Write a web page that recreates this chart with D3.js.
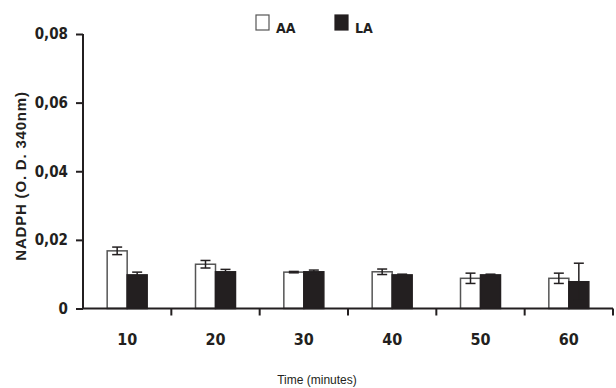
<!DOCTYPE html>
<html>
<head>
<meta charset="utf-8">
<script src="https://cdn.jsdelivr.net/npm/d3@7"></script>
<style>
  body { margin: 0; background: #fff; }
  svg { display: block; }
  .lbl { font-family: "DejaVu Sans Condensed", "Liberation Sans Narrow", sans-serif; font-weight: bold; font-stretch: condensed; fill: #231f20; }
</style>
</head>
<body>
<svg width="616" height="388"></svg>
<script>
var times = ["10", "20", "30", "40", "50", "60"];
var series = ["AA", "LA"];
var aaValues = [0.0168, 0.0129, 0.0106, 0.0107, 0.0088, 0.0088];
var aaErrors = [0.0011, 0.0011, 0.0002, 0.0008, 0.0015, 0.0015];
var laValues = [0.0098, 0.0107, 0.0107, 0.0098, 0.0098, 0.0078];
var laErrors = [0.0008, 0.0007, 0.0005, 0.0002, 0.0002, 0.0054];
var yTicks = [0, 0.02, 0.04, 0.06, 0.08];

var ink = "#231f20";

var svg = d3.select("svg"),
    margin = {top: 34, right: 3, bottom: 79.5, left: 83},
    width = +svg.attr("width") - margin.left - margin.right,
    height = +svg.attr("height") - margin.top - margin.bottom,
    g = svg.append("g").attr("transform", "translate(" + margin.left + "," + margin.top + ")");

var x = d3.scaleBand().domain(times).range([0, width]);
var xSub = d3.scaleBand().domain(series).range([0, 40]);
var y = d3.scaleLinear().domain([0, 0.08]).range([height, 0]);

var rows = times.map(function(t, i) {
  return [
    {time: t, key: "AA", value: aaValues[i], err: aaErrors[i]},
    {time: t, key: "LA", value: laValues[i], err: laErrors[i]}
  ];
});
var flat = [].concat.apply([], rows);

function barX(d) {
  return x(d.time) + (x.bandwidth() - 40) / 2 + xSub(d.key);
}

// bars
g.selectAll(".bar")
  .data(flat)
  .enter().append("rect")
    .attr("class", "bar")
    .attr("x", barX)
    .attr("y", function(d) { return y(d.value); })
    .attr("width", xSub.bandwidth())
    .attr("height", function(d) { return y(0) - y(d.value); })
    .attr("fill", function(d) { return d.key === "AA" ? "#fff" : ink; })
    .attr("stroke", function(d) { return d.key === "AA" ? "#555" : ink; })
    .attr("stroke-width", 1.5);

// error bars
var eb = g.selectAll(".err")
  .data(flat)
  .enter().append("g")
    .attr("class", "err")
    .attr("transform", function(d) { return "translate(" + (barX(d) + xSub.bandwidth() / 2) + ",0)"; })
    .attr("stroke", ink)
    .attr("stroke-width", 1.5);

eb.append("line")
  .attr("y1", function(d) { return y(d.value + d.err); })
  .attr("y2", function(d) { return y(d.value - d.err); });
eb.append("line")
  .attr("x1", -5).attr("x2", 5)
  .attr("y1", function(d) { return y(d.value + d.err); })
  .attr("y2", function(d) { return y(d.value + d.err); });
eb.append("line")
  .attr("x1", -5).attr("x2", 5)
  .attr("y1", function(d) { return y(d.value - d.err); })
  .attr("y2", function(d) { return y(d.value - d.err); });

// y axis
var yAxis = g.append("g")
  .call(d3.axisLeft(y).tickValues(yTicks).tickSize(7).tickPadding(8)
    .tickFormat(function(d) { return d === 0 ? "0" : d3.format(".2f")(d).replace(".", ","); }));
yAxis.select(".domain").remove();
yAxis.append("line")
  .attr("x1", 0).attr("x2", 0)
  .attr("y1", y(0.08)).attr("y2", y(0))
  .attr("stroke", ink).attr("stroke-width", 2);
yAxis.selectAll(".tick line").attr("stroke", ink).attr("stroke-width", 2);
yAxis.selectAll(".tick text")
  .attr("class", "lbl")
  .style("font-size", "15px");

// x axis: line, boundary ticks, centered labels
var xAxis = g.append("g").attr("transform", "translate(0," + height + ")");
xAxis.append("line")
  .attr("x1", 0).attr("x2", width)
  .attr("stroke", ink).attr("stroke-width", 2);
xAxis.selectAll(".bt")
  .data(times)
  .enter().append("line")
    .attr("class", "bt")
    .attr("x1", function(d) { return x(d) + x.bandwidth(); })
    .attr("x2", function(d) { return x(d) + x.bandwidth(); })
    .attr("y1", 0).attr("y2", 7)
    .attr("stroke", ink).attr("stroke-width", 2);
xAxis.selectAll(".xl")
  .data(times)
  .enter().append("text")
    .attr("class", "lbl")
    .attr("x", function(d) { return x(d) + x.bandwidth() / 2; })
    .attr("y", 36)
    .attr("text-anchor", "middle")
    .style("font-size", "16px")
    .text(function(d) { return d; });

// axis titles
svg.append("text")
  .attr("x", 317).attr("y", 384)
  .attr("text-anchor", "middle")
  .style("font-family", "'Liberation Sans', Arial, sans-serif")
  .style("font-size", "12px")
  .attr("fill", ink)
  .text("Time (minutes)");

svg.append("text")
  .attr("transform", "translate(26,176) rotate(-90)")
  .attr("text-anchor", "middle")
  .style("font-family", "'Liberation Sans', Arial, sans-serif")
  .style("font-weight", "bold")
  .style("font-size", "15px")
  .style("letter-spacing", "0.8px")
  .attr("fill", ink)
  .text("NADPH (O. D. 340nm)");

// legend
var legend = svg.append("g");
var legendX = [256, 335];
series.forEach(function(s, i) {
  legend.append("rect")
    .attr("x", legendX[i]).attr("y", 15)
    .attr("width", 13).attr("height", 15)
    .attr("fill", s === "AA" ? "#fff" : ink)
    .attr("stroke", s === "AA" ? "#555" : ink)
    .attr("stroke-width", 1.2);
  legend.append("text")
    .attr("class", "lbl")
    .attr("x", legendX[i] + 20).attr("y", 33)
    .style("font-size", "14px")
    .text(s);
});
</script>
</body>
</html>
